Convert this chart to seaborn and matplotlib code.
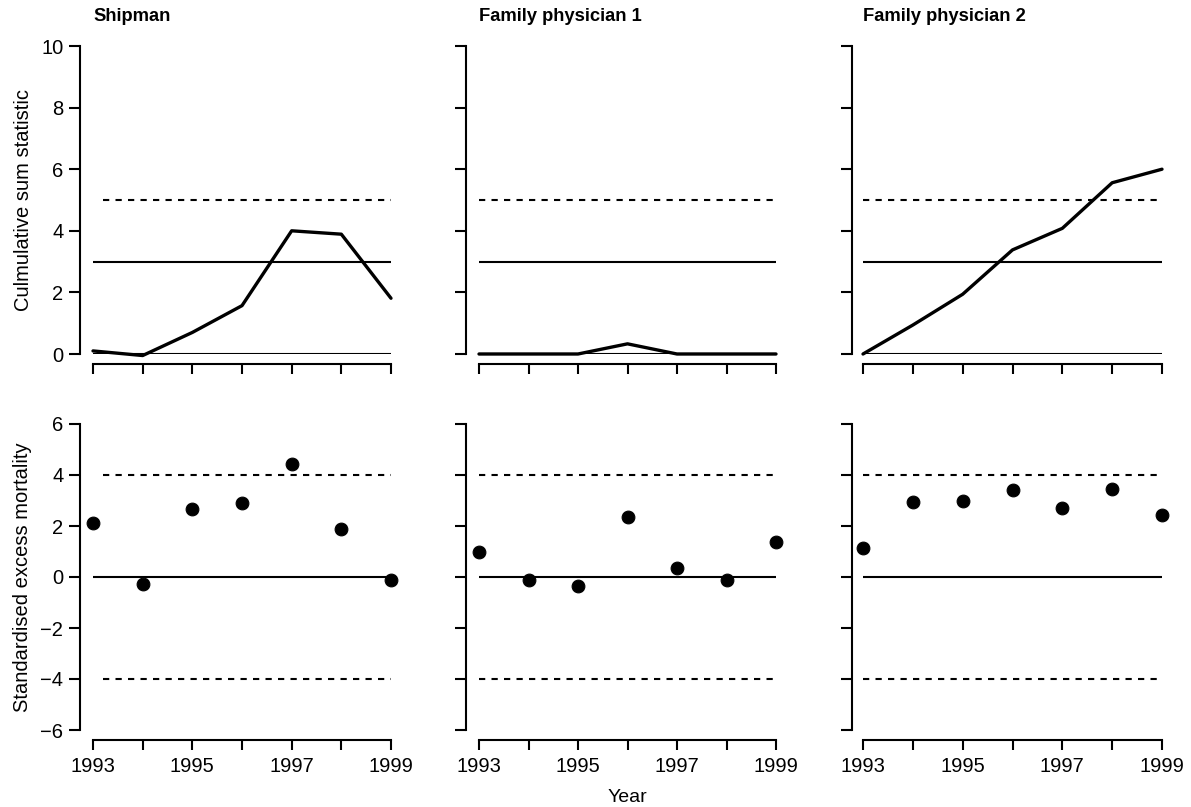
import matplotlib
matplotlib.use("Agg")
import matplotlib.pyplot as plt
import seaborn as sns
import pandas as pd

sns.set_style("ticks")
plt.rcParams['font.family'] = ['Liberation Sans', 'DejaVu Sans']
plt.rcParams.update({
    "text.color": "black", "axes.labelcolor": "black",
    "xtick.color": "black", "ytick.color": "black",
    "axes.edgecolor": "black",
})

years = [1993, 1994, 1995, 1996, 1997, 1998, 1999]
titles = ["Shipman", "Family physician 1", "Family physician 2"]
cusum_shipman = [0.1, -0.05, 0.7, 1.57, 4.0, 3.89, 1.81]
cusum_fp1 = [0.0, 0.0, 0.0, 0.33, 0.0, 0.0, 0.0]
cusum_fp2 = [0.0, 0.94, 1.94, 3.38, 4.08, 5.56, 6.0]
sem_shipman = [2.13, -0.28, 2.68, 2.9, 4.44, 1.88, -0.12]
sem_fp1 = [0.99, -0.1, -0.34, 2.36, 0.36, -0.13, 1.38]
sem_fp2 = [1.15, 2.93, 3.0, 3.4, 2.72, 3.46, 2.45]
cusum_ticks = [0, 2, 4, 6, 8, 10]
sem_ticks = [-6, -4, -2, 0, 2, 4, 6]
sem_tick_labels = ["\u22126", "\u22124", "\u22122", "0", "2", "4", "6"]
year_labels = ["1993", "", "1995", "", "1997", "", "1999"]
cusum_limit = 5
cusum_ref = 3
sem_limit = 4

cusums = [cusum_shipman, cusum_fp1, cusum_fp2]
sems = [sem_shipman, sem_fp1, sem_fp2]

W, H = 1191, 807
fig = plt.figure(figsize=(W / 100, H / 100), dpi=100)

col_left = [80, 466, 852]
col_x1993 = [93, 479, 863]
col_x1999 = [391, 776, 1162]
top_row = (46, 354)
bot_row = (424, 730)

def make_ax(c, row):
    left = col_left[c]
    right = col_x1999[c]
    ppy = (col_x1999[c] - col_x1993[c]) / 6.0
    x0 = 1993 - (col_x1993[c] - left) / ppy
    t, b = row
    ax = fig.add_axes([left / W, 1 - b / H, (right - left) / W, (b - t) / H])
    ax.set_xlim(x0, 1999)
    return ax

fs = 14.5
lw_ref = 1.5
for c in range(3):
    # Top row: cumulative sum
    ax = make_ax(c, top_row)
    df = pd.DataFrame({"year": years, "value": cusums[c]})
    ax.hlines(0, 1993, 1999, color="black", lw=lw_ref)
    ax.hlines(cusum_ref, 1993, 1999, color="black", lw=lw_ref)
    ax.hlines(cusum_limit, 1993.2 if c == 0 else 1993, 1999, color="black",
              lw=lw_ref, linestyles=(0, (3, 3)))
    sns.lineplot(data=df, x="year", y="value", ax=ax, color="black", lw=2.4,
                 clip_on=False)
    ax.set_ylim(0, 10)
    ax.set_yticks(cusum_ticks)
    ax.set_xticks(years)
    ax.set_xticklabels([])
    if c == 0:
        ax.set_ylabel("Culmulative sum statistic", fontsize=fs, labelpad=6)
        ax.set_yticklabels([str(v) for v in cusum_ticks])
    else:
        ax.set_ylabel("")
        ax.set_yticklabels([])
    ax.set_xlabel("")
    ax.text(1993, 1.0 + 30 / (354 - 46), titles[c], transform=ax.get_xaxis_transform(),
            fontsize=13.2, fontweight="bold", ha="left", va="center")

    # Bottom row: standardised excess mortality
    ax2 = make_ax(c, bot_row)
    df2 = pd.DataFrame({"year": years, "value": sems[c]})
    ax2.hlines(0, 1993, 1999, color="black", lw=lw_ref)
    for s in (sem_limit, -sem_limit):
        ax2.hlines(s, 1993.2 if c == 0 else 1993, 1999, color="black",
                   lw=lw_ref, linestyles=(0, (3, 3)))
    sns.scatterplot(data=df2, x="year", y="value", ax=ax2, color="black", s=85,
                    edgecolor="black", clip_on=False, zorder=5)
    ax2.set_ylim(-6, 6)
    ax2.set_yticks(sem_ticks)
    ax2.set_xticks(years)
    ax2.set_xticklabels(year_labels)
    if c == 0:
        ax2.set_ylabel("Standardised excess mortality", fontsize=fs, labelpad=6)
        ax2.set_yticklabels(sem_tick_labels)
    else:
        ax2.set_ylabel("")
        ax2.set_yticklabels([])
    ax2.set_xlabel("")

    for a in (ax, ax2):
        a.spines["top"].set_visible(False)
        a.spines["right"].set_visible(False)
        a.spines["left"].set_linewidth(1.5)
        a.spines["bottom"].set_linewidth(1.5)
        a.spines["bottom"].set_bounds(1993, 1999)
        a.spines["bottom"].set_position(("outward", 7.2))
        a.tick_params(axis="y", length=8, width=1.5, direction="out", pad=4,
                      labelsize=fs)
        a.tick_params(axis="x", length=7, width=1.5, direction="out", pad=5,
                      labelsize=fs)

fig.text((479 + 776) / 2 / W, 1 - 797 / H, "Year", ha="center", va="center",
         fontsize=14)

fig.savefig("out.png", dpi=100)
